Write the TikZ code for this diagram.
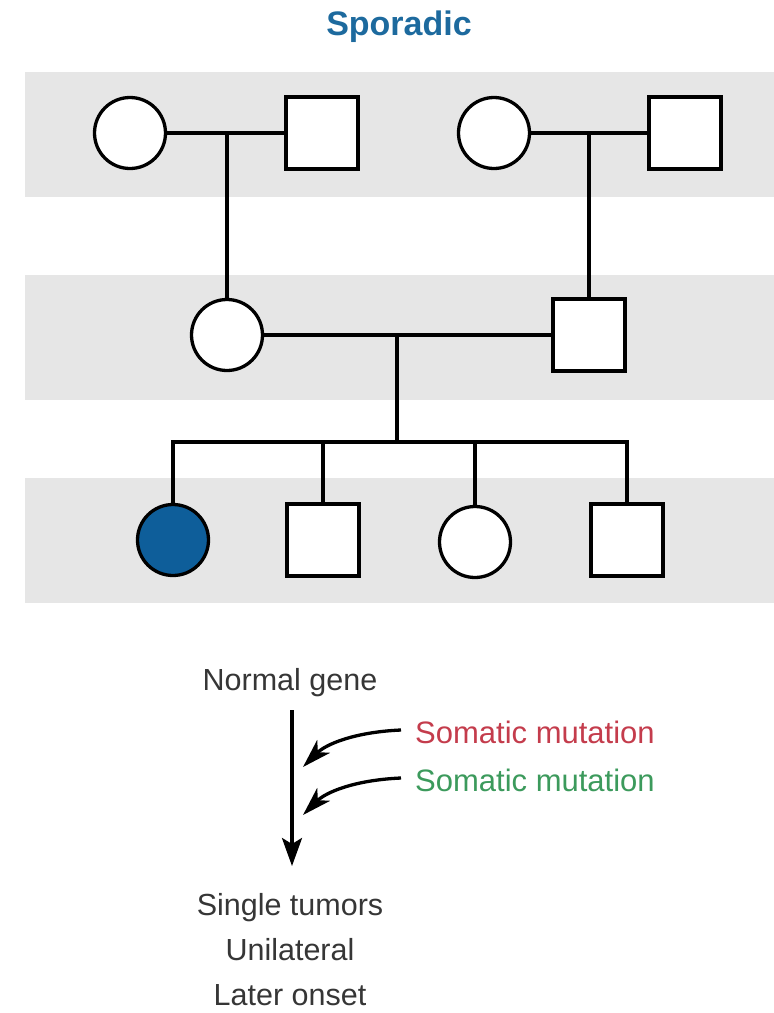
\documentclass[tikz,border=0pt]{standalone}
\usepackage{fontspec}
\setmainfont{Liberation Sans}
\usetikzlibrary{arrows.meta}
\definecolor{bandgray}{HTML}{E6E6E6}
\definecolor{affblue}{HTML}{0E5E9A}
\definecolor{titleblue}{HTML}{1D6A9E}
\definecolor{mutred}{HTML}{C43C4C}
\definecolor{mutgreen}{HTML}{3C9A5C}
\definecolor{txtgray}{HTML}{363636}
\begin{document}
\begin{tikzpicture}[x=1pt,y=-1pt,
  female/.style={circle, draw=black, line width=3.3pt, minimum size=71pt, inner sep=0pt, fill=white},
  male/.style={rectangle, draw=black, line width=3.3pt, minimum size=72pt, inner sep=0pt, fill=white},
  link/.style={line width=3.3pt, draw=black},
  band/.style={fill=bandgray},
  lbl/.style={font=\fontsize{30.5}{36}\selectfont, text=txtgray, inner sep=0pt, anchor=base},
  mut/.style={font=\fontsize{31}{36}\selectfont, inner sep=0pt, anchor=base west},
  curvearrow/.style={line width=3.3pt, draw=black, -{Stealth[length=29pt,width=18pt,inset=8pt]}},
  mainarrow/.style={line width=3.3pt, draw=black, -{Stealth[length=28pt,width=20pt,inset=6pt]}}]
\useasboundingbox (0,0) rectangle (774,1013);
% generation bands
\fill[band] (25,72) rectangle (774,197);
\fill[band] (25,275) rectangle (774,400);
\fill[band] (25,478) rectangle (774,603);
% title
\node[font=\bfseries\fontsize{34}{40}\selectfont, text=titleblue, inner sep=0pt, anchor=base] (title) at (399,35) {Sporadic};
% generation I
\node[female] (gm1) at (130,133) {};
\node[male]   (gf1) at (322,133) {};
\node[female] (gm2) at (494,133) {};
\node[male]   (gf2) at (685,133) {};
% generation II
\node[female] (mo) at (227,335) {};
\node[male]   (fa) at (589,335) {};
% generation III
\node[female, fill=affblue] (pb) at (173,540) {};
\node[male]   (b1) at (323,540) {};
\node[female] (s1) at (475,542) {};
\node[male]   (b2) at (627,540) {};
% couples and descent
\coordinate (j1) at (227,133);
\coordinate (j2) at (589,133);
\coordinate (j3) at (397,335);
\coordinate (sb) at (397,442);
\draw[link] (gm1) -- (gf1);
\draw[link] (gm2) -- (gf2);
\draw[link] (j1) -- (mo);
\draw[link] (j2) -- (fa);
\draw[link] (mo) -- (fa);
\draw[link] (j3) -- (sb);
\draw[link, line cap=rect] (pb |- sb) -- (b2 |- sb);
\draw[link] (pb |- sb) -- (pb);
\draw[link] (b1 |- sb) -- (b1);
\draw[link] (s1 |- sb) -- (s1);
\draw[link] (b2 |- sb) -- (b2);
% lower part
\node[lbl] (ng) at (290,690) {Normal gene};
\node[mut, text=mutred] (m1) at (415,743) {Somatic mutation};
\node[mut, text=mutgreen] (m2) at (415,791) {Somatic mutation};
\node[lbl] (r1) at (290,915) {Single tumors};
\node[lbl] (r2) at (290,960) {Unilateral};
\node[lbl] (r3) at (290,1005) {Later onset};
\coordinate (a0) at (292,710);
\coordinate (a1) at (292,866);
\coordinate (t1) at (303,767);
\coordinate (t2) at (303,815);
\draw[mainarrow] (a0) -- (a1);
\draw[curvearrow] ([xshift=-14pt,yshift=13pt]m1.base west) .. controls (355,732) and (326,744) .. (t1);
\draw[curvearrow] ([xshift=-14pt,yshift=13pt]m2.base west) .. controls (355,780) and (326,792) .. (t2);
\end{tikzpicture}
\end{document}
